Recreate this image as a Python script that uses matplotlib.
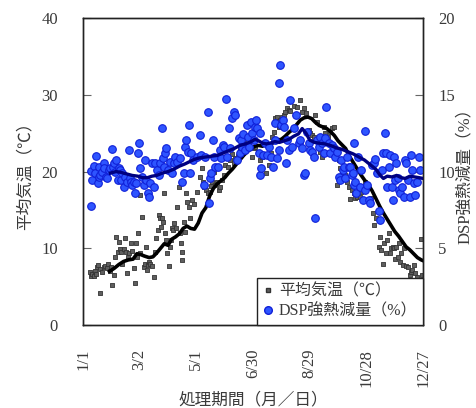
import matplotlib
matplotlib.use("Agg")
import matplotlib.pyplot as plt
from matplotlib.lines import Line2D

plt.rcParams['font.family'] = ['Liberation Serif', 'Noto Sans CJK JP']

# --- data (day of year from 1/1, value) ---
tick_days = [0, 60, 120, 180, 240, 300, 360]
tick_labels = ["1/1", "3/2", "5/1", "6/30", "8/29", "10/28", "12/27"]

# daily mean air temperature (deg C)
temp_day = [7.8, 8.5, 9.9, 11.3, 12.4, 13.8, 14.8, 15.9, 17.6, 18.4, 20.1, 21.9, 23.6, 25.4,
            26.5, 28.2, 29.7, 31.1, 32.5, 34.2, 35.3, 36.7, 38.1, 39.5, 40.2, 41.7, 43.1, 44.1,
            45.2, 46.6, 47.7, 49.1, 50.8, 52.2, 53.7, 55.4, 56.5, 57.2, 58.2, 60.0, 60.7, 62.8,
            64.2, 65.3, 66.4, 67.8, 68.5, 70.2, 71.3, 73.1, 74.8, 76.6, 77.7, 79.1, 80.1, 81.2,
            82.6, 83.7, 84.7, 85.4, 86.8, 87.9, 89.0, 90.7, 91.8, 93.2, 94.2, 95.3, 96.7, 98.1,
            99.5, 101.3, 102.4, 103.4, 104.5, 104.8, 106.6, 107.7, 108.7, 110.1, 111.9, 113.7,
            115.1, 117.2, 120.7, 124.2, 125.7, 127.1, 128.5, 130.6, 132.0, 134.1, 135.5, 137.0,
            138.4, 140.1, 141.9, 143.7, 145.4, 147.2, 149.0, 150.7, 153.2, 155.3, 157.8, 159.5,
            161.3, 163.8, 165.9, 168.4, 170.1, 172.9, 175.4, 177.2, 179.0, 180.7, 182.5, 184.9,
            187.1, 189.6, 192.0, 194.1, 196.6, 199.1, 200.1, 201.9, 203.7, 205.4, 207.2, 209.0,
            210.7, 212.5, 214.3, 216.0, 217.8, 219.6, 223.1, 226.6, 229.4, 231.9, 234.4, 236.5,
            239.0, 240.7, 242.5, 244.3, 246.0, 247.8, 249.6, 251.3, 253.1, 254.9, 256.6, 259.1,
            261.2, 263.7, 265.4, 267.2, 269.0, 270.7, 272.5, 274.3, 276.0, 277.8, 279.6, 281.3,
            283.1, 284.9, 286.6, 288.4, 290.2, 293.0, 294.7, 297.2, 299.0, 300.7, 303.6, 305.0,
            307.1, 308.5, 310.6, 313.1, 314.2, 315.6, 317.3, 319.1, 320.5, 321.9, 323.7, 324.7,
            326.2, 328.3, 329.7, 330.7, 331.8, 333.2, 334.6, 336.0, 337.1, 338.9, 340.3, 342.4,
            343.8, 345.9, 347.3, 348.7, 350.2, 351.9, 353.7, 354.7, 356.5, 357.9, 359.0]
temp_val = [6.95, 6.38, 6.64, 6.38, 7.08, 6.64, 7.6, 7.82, 7.25, 4.13, 6.95, 7.6, 7.69, 7.38,
            8.03, 7.08, 7.6, 5.21, 6.51, 8.9, 11.42, 9.55, 10.86, 9.86, 9.55, 8.03, 9.86, 11.29,
            9.55, 6.82, 8.9, 9.42, 10.64, 9.68, 7.38, 5.51, 10.64, 8.9, 11.94, 9.34, 16.93, 14.11,
            7.6, 8.03, 10.2, 7.16, 7.82, 8.25, 8.03, 7.69, 6.3, 9.55, 11.29, 12.38, 14.33, 13.9,
            12.81, 13.9, 13.46, 17.15, 11.94, 11.07, 9.34, 7.69, 10.2, 11.07, 12.59, 12.38, 13.24, 12.59,
            15.41, 18.02, 11.94, 10.64, 9.55, 8.47, 13.46, 12.16, 17.15, 16.07, 15.41, 13.9,
            16.28, 15.76, 17.37, 19.32, 20.41, 18.67, 17.93, 17.59, 17.24, 17.37, 18.11, 18.67,
            19.97, 18.24, 18.67, 17.59, 18.02, 18.89, 19.54, 20.84, 20.63, 21.49, 22.28, 21.06,
            21.71, 22.01, 22.8, 23.01, 23.66, 23.23, 23.58, 24.1, 21.93, 23.01, 23.23, 22.58,
            21.49, 21.93, 22.14, 19.76, 20.84, 22.36, 24.53, 25.18, 26.92, 27.14, 25.84, 26.7,
            27.14, 27.36, 27.79, 28.22, 28.01, 27.92, 28.53, 28.35, 29.31, 27.79, 28.22, 27.57,
            25.4, 24.97, 24.75, 24.53, 27.36, 26.49, 23.23, 22.58, 21.93, 25.84, 24.97, 24.53,
            25.18, 25.62, 25.84, 22.58, 18.24, 21.49, 20.41, 19.76, 20.63, 19.54, 18.67, 18.02,
            16.37, 17.59, 17.15, 16.5, 16.72, 16.72, 17.37, 18.02, 18.67, 17.8, 15.85, 16.5,
            14.55, 13.03, 13.9, 10.2, 11.51, 9.77, 8.03, 10.64, 9.34, 11.07, 11.94, 9.34,
            9.99, 10.2, 9.99, 8.68, 10.2, 8.9, 10.64, 8.25, 9.34, 7.82, 9.99, 7.69,
            7.6, 6.51, 6.95, 7.16, 7.82, 6.73, 6.3, 5.64, 5.86, 11.16, 6.51]

# DSP ignition loss (%)
dsp_day = [8.5, 8.5, 9.5, 11.3, 13.1, 14.1, 15.5, 16.6, 17.3, 18.4, 20.1, 21.9, 22.6, 24.7,
           25.4, 27.2, 28.2, 30.7, 31.8, 33.2, 34.2, 35.3, 36.7, 37.8, 38.8, 40.2, 41.3, 43.8,
           44.8, 46.6, 48.4, 49.4, 50.8, 51.9, 53.7, 55.4, 56.5, 57.9, 58.9, 60.7, 62.5, 64.2,
           65.3, 67.1, 68.5, 69.5, 71.3, 73.1, 74.8, 76.6, 78.4, 80.1, 81.9, 83.7, 84.7, 85.4,
           86.5, 88.2, 89.7, 92.5, 94.2, 96.0, 97.8, 99.5, 103.0, 104.8, 106.6, 108.4, 109.4,
           110.8, 111.9, 113.0, 114.4, 116.5, 120.7, 123.5, 125.3, 127.8, 129.5, 132.0, 133.1,
           134.1, 135.5, 137.7, 138.4, 140.1, 142.6, 144.7, 146.1, 147.9, 149.7, 151.1, 152.5,
           154.3, 156.0, 157.8, 159.5, 161.3, 163.1, 164.8, 165.9, 167.3, 168.4, 169.4, 171.9,
           173.7, 174.4, 175.4, 177.9, 179.0, 180.7, 182.5, 183.6, 184.3, 186.0, 187.1, 187.8,
           188.5, 190.6, 193.1, 194.8, 196.6, 199.1, 201.2, 203.0, 203.7, 205.4, 207.2, 207.9,
           209.0, 210.0, 211.8, 213.2, 215.3, 216.0, 217.8, 219.6, 221.3, 223.1, 225.9, 228.4,
           230.1, 231.9, 233.7, 235.4, 237.2, 239.0, 240.7, 242.5, 244.3, 246.0, 247.8, 249.6,
           251.3, 253.1, 254.9, 256.6, 257.7, 260.1, 261.9, 263.7, 265.4, 267.2, 269.0, 270.7,
           271.8, 273.2, 275.3, 276.7, 277.8, 279.6, 281.3, 283.1, 284.9, 285.9, 286.6, 287.3,
           288.4, 289.4, 290.9, 293.0, 294.4, 296.5, 298.3, 299.0, 300.7, 302.5, 304.3, 306.0,
           307.8, 309.6, 311.3, 313.1, 314.9, 316.6, 317.7, 320.2, 321.2, 321.9, 323.7, 325.4,
           327.2, 328.3, 329.7, 330.7, 331.8, 333.2, 334.3, 336.0, 337.8, 339.6, 341.3, 342.4,
           343.8, 345.9, 347.3, 348.7, 350.2, 351.9, 353.7, 355.4, 356.5]
dsp_val = [10.05, 7.77, 9.45, 10.36, 9.88, 11.0, 9.27, 9.66, 10.31, 9.77, 9.99, 10.53, 10.21, 9.66,
           9.55, 10.1, 10.21, 11.44, 10.31, 10.53, 9.99, 10.75, 9.45, 10.21, 10.1, 9.45, 9.88, 9.01,
           9.66, 9.34, 11.4, 9.55, 9.34, 9.12, 9.34, 8.58, 9.27, 11.18, 11.83, 10.21, 9.66, 9.12,
           10.75, 9.45, 8.58, 8.36, 9.23, 10.58, 9.01, 10.53, 10.1, 9.77, 10.53, 12.86, 10.86, 10.31,
           11.18, 11.51, 10.1, 10.64, 9.88, 10.53, 10.97, 10.64, 10.86, 9.34, 9.88, 11.62, 12.05,
           11.29, 13.03, 9.88, 11.18, 10.75, 10.97, 12.38, 11.07, 9.12, 10.97, 13.85, 7.93,
           9.55, 9.88, 12.05, 10.97, 10.31, 10.31, 11.4, 10.86, 11.73, 11.62, 14.72, 10.97,
           12.81, 11.51, 13.46, 13.9, 13.68, 10.75, 12.16, 11.18, 12.05, 11.62, 12.44, 11.4,
           13.03, 12.27, 11.62, 13.25, 12.49, 12.05, 12.92, 13.36, 12.81, 11.18, 12.49, 9.77,
           10.21, 11.07, 11.83, 11.07, 11.62, 10.97, 10.31, 12.05, 13.14, 10.86, 11.4, 15.74,
           16.94, 13.03, 13.36, 12.92, 10.53, 12.05, 11.4, 14.66, 11.62, 12.81, 13.68, 11.83,
           12.05, 11.51, 9.77, 9.88, 12.6, 11.83, 11.4, 11.29, 10.97, 6.99, 12.05, 11.62,
           12.27, 11.83, 11.18, 12.16, 14.18, 11.83, 11.18, 11.73, 11.51, 10.97, 11.29, 9.66,
           9.45, 10.75, 10.1, 10.31, 9.55, 10.97, 10.31, 10.31, 9.77, 9.88, 11.88, 9.12,
           9.34, 8.58, 10.97, 9.01, 10.1, 8.14, 12.64, 8.79, 9.12, 8.14, 7.93, 10.42,
           10.53, 10.79, 9.88, 7.45, 6.84, 10.1, 11.18, 12.49, 11.18, 9.01, 10.31, 11.07,
           9.01, 8.14, 10.97, 9.45, 10.53, 9.55, 8.79, 8.58, 9.01, 8.36, 10.75, 10.53,
           9.45, 8.36, 11.07, 10.1, 9.23, 8.47, 9.34, 10.97, 10.1]

# moving averages
temp_ma_day = [28, 33, 38, 43, 48, 53, 57, 61, 65, 70, 74, 78, 82, 86, 90, 94, 98, 102, 106,
               110, 114, 118, 122, 126, 130, 134, 138, 142, 146, 150, 154, 158, 162, 166, 170,
               174, 178, 182, 186, 190, 194, 198, 202, 206, 210, 214, 218, 222, 226, 230, 234,
               238, 242, 246, 250, 254, 258, 262, 266, 270, 274, 278, 282, 286, 290, 294, 298,
               302, 306, 310, 314, 318, 322, 326, 330, 334, 338, 342, 346, 350, 354, 358, 360]
temp_ma = [7.0, 7.4, 7.9, 8.3, 8.5, 8.6, 9.3, 9.2, 9.0, 8.8, 8.9, 9.4, 10.0, 10.6, 10.4, 11.2,
           11.5, 11.9, 12.6, 12.9, 12.6, 12.5, 13.3, 14.6, 15.3, 16.8, 17.8, 18.4, 18.8, 19.2,
           19.8, 20.3, 20.9, 21.5, 22.1, 22.6, 23.0, 23.3, 23.4, 23.3, 23.6, 23.5, 23.8, 24.1,
           24.2, 24.6, 25.1, 25.5, 26.1, 26.7, 27.0, 27.1, 26.9, 26.4, 26.0, 25.8, 25.6, 25.2,
           24.7, 24.0, 23.5, 23.0, 22.0, 21.2, 20.4, 19.6, 18.9, 18.3, 17.5, 16.5, 15.5, 14.6,
           13.8, 13.0, 12.2, 11.6, 10.9, 10.2, 9.8, 9.3, 8.8, 8.5, 8.4]

dsp_ma_day = [29, 35, 40, 46, 52, 58, 63, 68, 73, 78, 84, 90, 96, 102, 108, 113, 118, 124, 130,
              136, 142, 148, 154, 160, 166, 172, 178, 182, 186, 190, 194, 198, 203, 208, 213,
              218, 223, 228, 232, 236, 240, 245, 250, 256, 262, 268, 274, 280, 286, 292, 298,
              304, 310, 314, 318, 322, 327, 332, 337, 341, 346, 351, 356, 360]
dsp_ma = [9.9, 10.0, 9.95, 9.85, 9.75, 9.7, 9.6, 9.6, 9.7, 9.75, 9.9, 10.0, 10.15, 10.35, 10.5,
          10.65, 10.8, 10.9, 10.95, 11.0, 11.05, 11.2, 11.35, 11.5, 11.7, 11.8, 11.95, 12.1, 12.0,
          11.85, 11.8, 11.85, 11.95, 11.9, 12.0, 12.1, 12.3, 12.45, 12.8, 12.5, 12.05, 11.9,
          11.85, 11.8, 11.7, 11.55, 11.45, 11.3, 11.15, 10.95, 10.75, 10.45, 10.15, 9.8, 9.55,
          9.7, 9.65, 9.75, 9.6, 9.55, 9.7, 9.65, 9.6, 9.55]

text_col = '#3a3a3a'

fig = plt.figure(figsize=(4.77, 4.08), dpi=100)
ax = fig.add_axes([0.174, 0.203, 0.713, 0.753])
ax2 = ax.twinx()

ax.scatter(temp_day, temp_val, s=10, marker='s', facecolor='#5e5e5e', edgecolor='#333333',
           linewidths=0.6, zorder=2)
ax.plot(temp_ma_day, temp_ma, color='black', lw=2.6, zorder=3)

ax2.scatter(dsp_day, dsp_val, s=30, marker='o', facecolor='#2e55ff', edgecolor='#1020d8',
            linewidths=0.8, zorder=2)
ax2.plot(dsp_ma_day, dsp_ma, color='#000080', lw=2.4, zorder=3)

ax.set_xlim(0, 360)
ax.set_ylim(0, 40)
ax2.set_ylim(0, 20)
ax.set_xticks(tick_days)
ax.set_xticklabels(tick_labels, rotation=90, va='top')
ax.set_yticks([0, 10, 20, 30, 40])
ax2.set_yticks([0, 5, 10, 15, 20])

ax.tick_params(axis='x', length=0, pad=17, labelsize=12, colors=text_col)
ax.tick_params(axis='y', direction='in', length=6, pad=18, labelsize=12,
               colors='#666666', labelcolor=text_col)
ax2.tick_params(axis='y', direction='in', length=6, pad=11, labelsize=12,
                colors='#666666', labelcolor=text_col)

for a in (ax, ax2):
    for s in a.spines.values():
        s.set_color('#222222')
        s.set_linewidth(1.0)

ax.set_ylabel('平均気温（℃）', fontsize=12, color=text_col, labelpad=6)
ax2.set_ylabel('DSP強熱減量（%）', fontsize=12, color=text_col, labelpad=1)
ax.set_xlabel('処理期間（月／日）', fontsize=12, color=text_col, labelpad=4)

handles = [
    Line2D([], [], marker='s', ls='none', markersize=3.5, markerfacecolor='#5e5e5e',
           markeredgecolor='#333333', label='平均気温（℃）'),
    Line2D([], [], marker='o', ls='none', markersize=5.5, markerfacecolor='#2e55ff',
           markeredgecolor='#1020d8', label='DSP強熱減量（%）'),
]
leg = ax2.legend(handles=handles, loc='lower right', borderaxespad=0, fontsize=11.5,
                 frameon=True, fancybox=False, handlelength=0.6, handletextpad=0.4,
                 borderpad=0.35, labelspacing=0.25, labelcolor=text_col)
leg.get_frame().set_edgecolor('#222222')
leg.get_frame().set_linewidth(1.0)
leg.get_frame().set_alpha(1)

fig.savefig('out.png', dpi=100)
